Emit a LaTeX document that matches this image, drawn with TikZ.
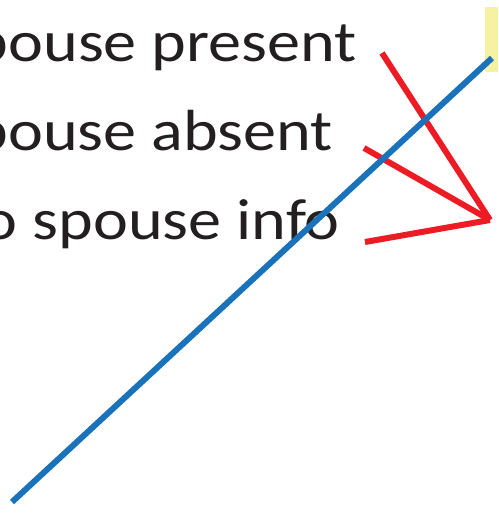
\documentclass[tikz,border=0pt]{standalone}
\usepackage{fontspec}
\setmainfont{Carlito}
\definecolor{lblue}{HTML}{1A72BB}
\definecolor{lred}{HTML}{ED1C24}
\definecolor{lyellow}{HTML}{F6F2A2}
\definecolor{ltext}{HTML}{231F20}
\tikzset{
  lbl/.style={anchor=base east, inner sep=0pt, font=\fontsize{58}{68}\selectfont, text=ltext, xscale=1.14, transform shape},
  redline/.style={draw=lred, line width=6pt},
  blueline/.style={draw=lblue, line width=6pt},
}
\begin{document}
\begin{tikzpicture}[x=1pt,y=-1pt]
\useasboundingbox (0,0) rectangle (498,514);
\clip (0,0) rectangle (498,514);
\fill[lyellow] (485,7) rectangle (498,72);
\node[lbl] (t1) at (357,61) {pouse present};
\node[lbl] (t2) at (333,150) {pouse absent};
\node[lbl] (t3) at (340,239) {o spouse info};
\coordinate (r1) at (382,53);
\coordinate (r2) at (364,148);
\coordinate (r3) at (365,242);
\coordinate (p) at (490,220);
\coordinate (b0) at (12,502);
\coordinate (b1) at (492,58);
\draw[redline] (r1) -- (p);
\draw[redline] (r2) -- (p);
\draw[redline] (r3) -- (p);
\draw[blueline] (b0) -- (b1);
\end{tikzpicture}
\end{document}
